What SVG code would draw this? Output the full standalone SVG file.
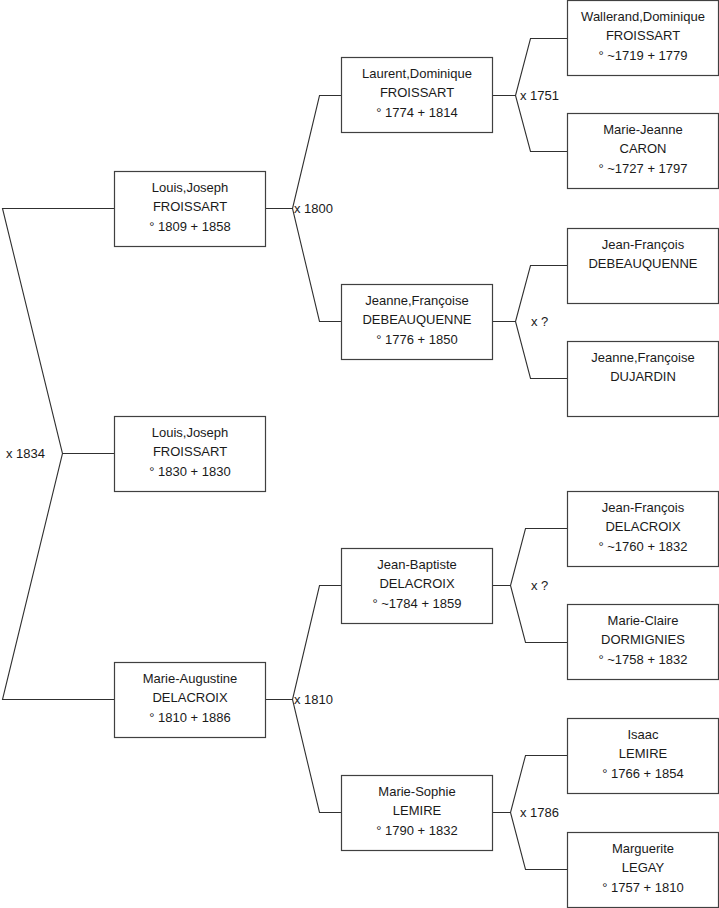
<svg xmlns="http://www.w3.org/2000/svg" width="719" height="908" viewBox="0 0 719 908">
<style>
.b{fill:#fff;stroke:#404040;stroke-width:1.2}
.c{fill:none;stroke:#303030;stroke-width:1.1}
text{font-family:"Liberation Sans",Arial,sans-serif;font-size:13px;fill:#1a1a1a}
.m{text-anchor:middle}
</style>
<rect width="719" height="908" fill="#fff"/>
<g id="connectors">
<path class="c" d="M114.5,208.5 H2.5 L62.5,453.5 L2.5,699.5 H114.5 M62.5,453.5 H114.5"/>
<path class="c" d="M265.5,208.5 H292.5 M341.5,95.5 H319.5 L292.5,208.5 L319.5,321.5 H341.5"/>
<path class="c" d="M265.5,699.5 H292.5 M341.5,585.5 H319.5 L292.5,699.5 L319.5,812.5 H341.5"/>
<path class="c" d="M492.5,95.5 H515.5 M567.5,38.5 H530.5 L515.5,95.5 L530.5,151.5 H567.5"/>
<path class="c" d="M492.5,321.5 H515.5 M567.5,265.5 H530.5 L515.5,321.5 L530.5,378.5 H567.5"/>
<path class="c" d="M492.5,585.5 H510.5 M567.5,528.5 H525.5 L510.5,585.5 L525.5,642.5 H567.5"/>
<path class="c" d="M492.5,812.5 H510.5 M567.5,755.5 H525.5 L510.5,812.5 L525.5,869.5 H567.5"/>
<text x="6" y="458">x 1834</text>
<text x="294" y="213">x 1800</text>
<text x="294" y="704">x 1810</text>
<text x="520" y="100">x 1751</text>
<text x="531" y="326">x ?</text>
<text x="531" y="590">x ?</text>
<text x="520" y="817">x 1786</text>
</g>
<g id="n1"><rect class="b" x="114.5" y="171.5" width="151" height="75"/>
<text class="m" x="190" y="191.5">Louis,Joseph</text><text class="m" x="190" y="211">FROISSART</text><text class="m" x="190" y="230.5">° 1809 + 1858</text></g>
<g id="n2"><rect class="b" x="114.5" y="416.5" width="151" height="75"/>
<text class="m" x="190" y="436.5">Louis,Joseph</text><text class="m" x="190" y="456">FROISSART</text><text class="m" x="190" y="475.5">° 1830 + 1830</text></g>
<g id="n3"><rect class="b" x="114.5" y="662.5" width="151" height="75"/>
<text class="m" x="190" y="682.5">Marie-Augustine</text><text class="m" x="190" y="702">DELACROIX</text><text class="m" x="190" y="721.5">° 1810 + 1886</text></g>
<g id="n4"><rect class="b" x="341.5" y="57.5" width="151" height="75"/>
<text class="m" x="417" y="77.5">Laurent,Dominique</text><text class="m" x="417" y="97">FROISSART</text><text class="m" x="417" y="116.5">° 1774 + 1814</text></g>
<g id="n5"><rect class="b" x="341.5" y="284.5" width="151" height="75"/>
<text class="m" x="417" y="304.5">Jeanne,Françoise</text><text class="m" x="417" y="324">DEBEAUQUENNE</text><text class="m" x="417" y="343.5">° 1776 + 1850</text></g>
<g id="n6"><rect class="b" x="341.5" y="548.5" width="151" height="75"/>
<text class="m" x="417" y="568.5">Jean-Baptiste</text><text class="m" x="417" y="588">DELACROIX</text><text class="m" x="417" y="607.5">° ~1784 + 1859</text></g>
<g id="n7"><rect class="b" x="341.5" y="775.5" width="151" height="75"/>
<text class="m" x="417" y="795.5">Marie-Sophie</text><text class="m" x="417" y="815">LEMIRE</text><text class="m" x="417" y="834.5">° 1790 + 1832</text></g>
<g id="n8"><rect class="b" x="567.5" y="0.5" width="151" height="75"/>
<text class="m" x="643" y="20.5">Wallerand,Dominique</text><text class="m" x="643" y="40">FROISSART</text><text class="m" x="643" y="59.5">° ~1719 + 1779</text></g>
<g id="n9"><rect class="b" x="567.5" y="113.5" width="151" height="75"/>
<text class="m" x="643" y="133.5">Marie-Jeanne</text><text class="m" x="643" y="153">CARON</text><text class="m" x="643" y="172.5">° ~1727 + 1797</text></g>
<g id="n10"><rect class="b" x="567.5" y="228.5" width="151" height="75"/>
<text class="m" x="643" y="248.5">Jean-François</text><text class="m" x="643" y="268">DEBEAUQUENNE</text></g>
<g id="n11"><rect class="b" x="567.5" y="341.5" width="151" height="75"/>
<text class="m" x="643" y="361.5">Jeanne,Françoise</text><text class="m" x="643" y="381">DUJARDIN</text></g>
<g id="n12"><rect class="b" x="567.5" y="491.5" width="151" height="75"/>
<text class="m" x="643" y="511.5">Jean-François</text><text class="m" x="643" y="531">DELACROIX</text><text class="m" x="643" y="550.5">° ~1760 + 1832</text></g>
<g id="n13"><rect class="b" x="567.5" y="604.5" width="151" height="75"/>
<text class="m" x="643" y="624.5">Marie-Claire</text><text class="m" x="643" y="644">DORMIGNIES</text><text class="m" x="643" y="663.5">° ~1758 + 1832</text></g>
<g id="n14"><rect class="b" x="567.5" y="718.5" width="151" height="75"/>
<text class="m" x="643" y="738.5">Isaac</text><text class="m" x="643" y="758">LEMIRE</text><text class="m" x="643" y="777.5">° 1766 + 1854</text></g>
<g id="n15"><rect class="b" x="567.5" y="832.5" width="151" height="75"/>
<text class="m" x="643" y="852.5">Marguerite</text><text class="m" x="643" y="872">LEGAY</text><text class="m" x="643" y="891.5">° 1757 + 1810</text></g>
</svg>
